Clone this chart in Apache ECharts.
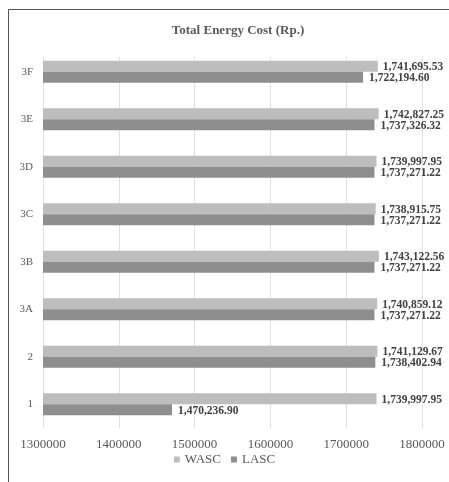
<!DOCTYPE html>
<html><head><meta charset="utf-8">
<script src="https://cdn.jsdelivr.net/npm/echarts@6/dist/echarts.min.js"></script>
<style>html,body{margin:0;padding:0;background:#fff}#c{width:449px;height:482px}</style>
</head><body><div id="c"></div>
<script>
const categories = ['1','2','3A','3B','3C','3D','3E','3F'];
const wasc = [1739997.95,1741129.67,1740859.12,1743122.56,1738915.75,1739997.95,1742827.25,1741695.53];
const lasc = [1470236.90,1738402.94,1737271.22,1737271.22,1737271.22,1737271.22,1737326.32,1722194.60];
const xTicks = [1300000,1400000,1500000,1600000,1700000,1800000];

const serif = '"Liberation Serif","Times New Roman",serif';
const fmt = v => v.toLocaleString('en-US',{minimumFractionDigits:2,maximumFractionDigits:2});
const chart = echarts.init(document.getElementById('c'));
chart.setOption({
  animation:false,
  backgroundColor:'#fff',
  title:{text:'Total Energy Cost (Rp.)',left:233,textAlign:'center',top:19,
    textStyle:{fontFamily:serif,fontSize:13,fontWeight:'bold',color:'#595959'}},
  legend:{bottom:11,left:'center',itemWidth:6,itemHeight:6,itemGap:10,
    icon:'rect',textStyle:{fontFamily:serif,fontSize:13,color:'#595959'},
    data:['WASC','LASC']},
  grid:[
    {left:43,right:27,top:48,bottom:54,containLabel:false},
    {left:43,right:27,top:57,bottom:54,containLabel:false}
  ],
  xAxis:[
    {type:'value',gridIndex:0,min:xTicks[0],max:xTicks[xTicks.length-1],interval:100000,
      axisLine:{show:false},axisTick:{show:false},
      axisLabel:{fontFamily:serif,fontSize:13,color:'#595959',margin:10,formatter:v=>String(v)},
      splitLine:{show:false}, z:1},
    {type:'value',gridIndex:1,min:xTicks[0],max:xTicks[xTicks.length-1],interval:100000,
      axisLine:{show:false},axisTick:{show:false},axisLabel:{show:false},
      splitLine:{lineStyle:{color:'#e0e0e0'}}, z:0}
  ],
  yAxis:[
    {type:'category',gridIndex:0,data:categories,
      axisLine:{show:false},axisTick:{show:false},
      axisLabel:{fontFamily:serif,fontSize:11,color:'#595959',margin:10}},
    {type:'category',gridIndex:1,data:categories,show:false}
  ],
  series:[
    {name:'WASC',type:'bar',data:wasc,barWidth:11,barGap:'0%',z:3,
      itemStyle:{color:'#bdbdbd'},
      label:{show:true,position:'right',distance:5,formatter:p=>fmt(p.value),
        fontFamily:serif,fontSize:11.5,fontWeight:'bold',color:'#404040',offset:[0,1]}},
    {name:'LASC',type:'bar',data:lasc,barWidth:11,barGap:'0%',z:3,
      itemStyle:{color:'#8e8e8e'},
      label:{show:true,position:'right',distance:6,formatter:p=>fmt(p.value),
        fontFamily:serif,fontSize:11.5,fontWeight:'bold',color:'#404040',offset:[0,1]}}
  ],
  graphic:[
    {type:'line',shape:{x1:8.5,y1:9.5,x2:449,y2:9.5},style:{stroke:'#555',lineWidth:1}},
    {type:'line',shape:{x1:8.5,y1:9.5,x2:8.5,y2:482},style:{stroke:'#555',lineWidth:1}}
  ]
});
</script></body></html>
